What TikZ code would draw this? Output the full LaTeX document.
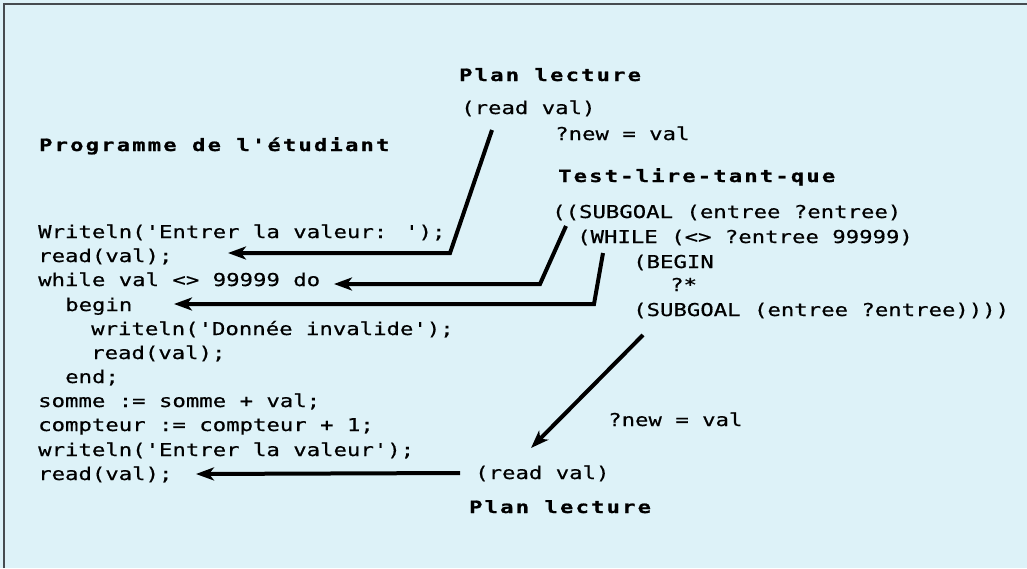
\documentclass[tikz,border=0pt]{standalone}
\usepackage{fontspec}
\usetikzlibrary{arrows.meta}
\newfontfamily\codefont[FakeStretch=1.26,FakeBold=0.6]{DejaVu Sans Mono}
\newfontfamily\titlefont[FakeStretch=1.3,LetterSpace=13,FakeBold=1]{DejaVu Sans Mono}
\definecolor{bgc}{RGB}{221,242,248}
\definecolor{framec}{RGB}{70,75,80}
\tikzset{
  code/.style={anchor=west, inner sep=0pt, text height=12pt, text depth=0pt,
    font={\codefont\fontsize{17.7}{20}\selectfont}, text=black},
  title/.style={code, font={\titlefont\bfseries\fontsize{17}{20}\selectfont}},
  link/.style={line width=4pt, line join=miter, draw=black,
    -{Stealth[length=18pt,width=13pt,inset=5pt]}},
}
\begin{document}
\begin{tikzpicture}[x=1pt,y=-1pt]
\useasboundingbox (0,0) rectangle (1027,568);
\fill[bgc] (0,0) rectangle (1027,568);
\draw[framec, line width=2pt] (4,568) -- (4,4) -- (1027,4);

% titles
\node[title] (plantop) at (459,75) {Plan lecture};
\node[title] (prog) at (39,145) {Programme de l'étudiant};
\node[title] (test) at (558,176) {Test-lire-tant-que};
\node[title] (planbot) at (469,507) {Plan lecture};

% plan lecture (top)
\node[code] (readtop) at (461,108) {(read val)};
\node[code] (newtop) at (555,134) {?new = val};

% test-lire-tant-que
\node[code] (t1) at (552,212) {((SUBGOAL (entree ?entree)};
\node[code] (t2) at (577,237) {(WHILE (<> ?entree 99999)};
\node[code] (t3) at (633,262) {(BEGIN};
\node[code] (t4) at (670,285) {?*};
\node[code] (t5) at (633,310) {(SUBGOAL (entree ?entree))))};

% plan lecture (bottom)
\node[code] (newbot) at (608,420) {?new = val};
\node[code] (readbot) at (475,473) {(read val)};

% student program
\node[code] (c1)  at (38,232) {Writeln('Entrer la valeur: ');};
\node[code] (c2)  at (38,256) {read(val);};
\node[code] (c3)  at (38,280) {while val <> 99999 do};
\node[code] (c4)  at (65,305) {begin};
\node[code] (c5)  at (91,329) {writeln('Donnée invalide');};
\node[code] (c6)  at (91,353) {read(val);};
\node[code] (c7)  at (65,377) {end;};
\node[code] (c8)  at (38,401) {somme := somme + val;};
\node[code] (c9)  at (38,425) {compteur := compteur + 1;};
\node[code] (c10) at (38,450) {writeln('Entrer la valeur');};
\node[code] (c11) at (38,474) {read(val);};

% connector points
\coordinate (a1s) at (492,130);
\coordinate (a1k) at (450,253);
\coordinate (a1t) at (228,253);
\coordinate (a2s) at (566,226);
\coordinate (a2k) at (540,284);
\coordinate (a2t) at (334,284);
\coordinate (a3s) at (603,253);
\coordinate (a3k) at (594,304);
\coordinate (a3t) at (174,304);
\coordinate (a4s) at (643,335);
\coordinate (a4t) at (531,448);
\coordinate (a5t) at (196,474);

\draw[link] (a1s) -- (a1k) -- (a1t);
\draw[link] (a2s) -- (a2k) -- (a2t);
\draw[link] (a3s) -- (a3k) -- (a3t);
\draw[link] (a4s) -- (a4t);
\draw[link] ([xshift=-15pt]readbot.west) -- (a5t);
\end{tikzpicture}
\end{document}
